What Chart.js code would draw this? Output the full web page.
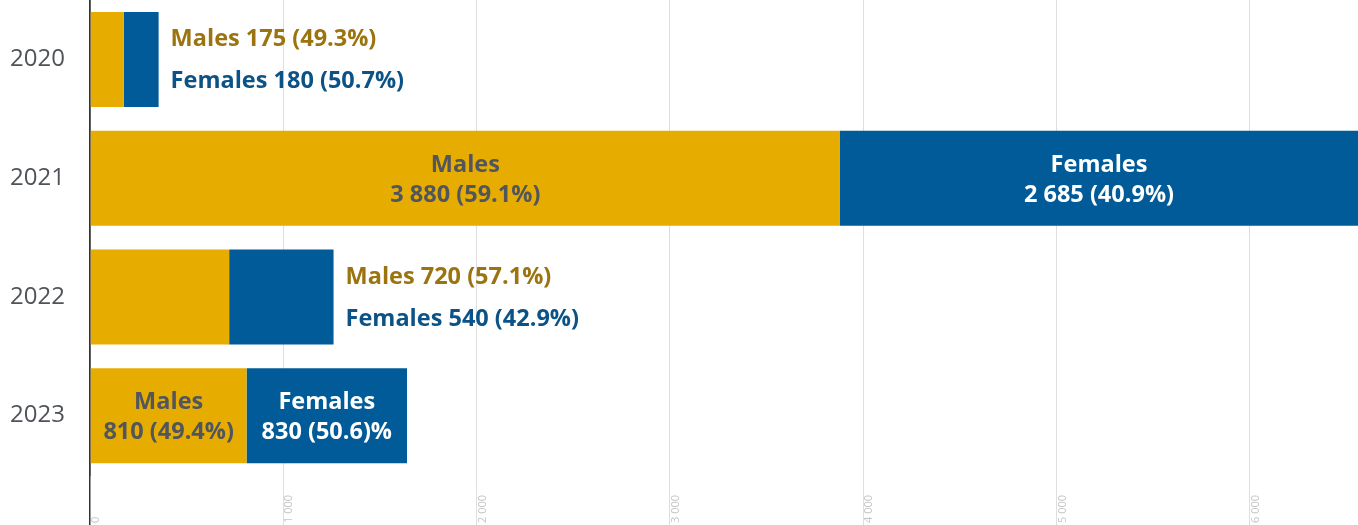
<!DOCTYPE html>
<html>
<head>
<meta charset="utf-8">
<script src="https://cdn.jsdelivr.net/npm/chart.js@4/dist/chart.umd.min.js"></script>
<style>
  html, body { margin: 0; padding: 0; background: #fff; }
  #wrap { width: 1358px; height: 525px; position: relative; }
</style>
</head>
<body>
<div id="wrap"><canvas id="grafica"></canvas></div>
<script>
// ==============================
// DATA
// ==============================
const years = ["2020", "2021", "2022", "2023"];
const males = [175, 3880, 720, 810];
const females = [180, 2685, 540, 830];
const malesPct = ["(49.3%)", "(59.1%)", "(57.1%)", "(49.4%)"];
const femalesPct = ["(50.7%)", "(40.9%)", "(42.9%)", "(50.6)%"];
const xTicks = [0, 1000, 2000, 3000, 4000, 5000, 6000];

const GOLD = "#E6AC00";
const BLUE = "#005B98";
const GOLD_TEXT = "#9B7410";
const BLUE_TEXT = "#0B5386";
const FONT = "'Open Sans', sans-serif";

function fmt(n) {
    return String(n).replace(/\B(?=(\d{3})+(?!\d))/g, " ");
}

// ==============================
// LABELS ON / NEXT TO BARS
// ==============================
const barLabels = {
    id: "barLabels",
    afterDatasetsDraw(chart) {
        const ctx = chart.ctx;
        const mMeta = chart.getDatasetMeta(0);
        const fMeta = chart.getDatasetMeta(1);
        ctx.save();
        ctx.font = "bold 23.5px " + FONT;
        ctx.textBaseline = "middle";

        years.forEach((y, i) => {
            const mBar = mMeta.data[i];
            const fBar = fMeta.data[i];
            const mLine2 = fmt(males[i]) + " " + malesPct[i];
            const fLine2 = fmt(females[i]) + " " + femalesPct[i];
            const mW = mBar.x - mBar.base;
            const fW = fBar.x - fBar.base;
            const fits = ctx.measureText(mLine2).width < mW &&
                         ctx.measureText(fLine2).width < fW;
            const cy = mBar.y;

            if (fits) {
                const right = Math.min(fBar.x, chart.chartArea.right);
                ctx.textAlign = "center";
                ctx.fillStyle = "#51565c";
                ctx.fillText("Males", (mBar.base + mBar.x) / 2, cy - 13);
                ctx.fillText(mLine2, (mBar.base + mBar.x) / 2, cy + 17);
                ctx.fillStyle = "#ffffff";
                ctx.fillText("Females", (fBar.base + right) / 2, cy - 13);
                ctx.fillText(fLine2, (fBar.base + right) / 2, cy + 17);
            } else {
                const x = fBar.x + 12;
                ctx.textAlign = "left";
                ctx.fillStyle = GOLD_TEXT;
                ctx.fillText("Males " + mLine2, x, cy - 20);
                ctx.fillStyle = BLUE_TEXT;
                ctx.fillText("Females " + fLine2, x, cy + 22);
            }
        });
        ctx.restore();
    }
};

// ==============================
// X TICK LABELS (rotated, at the bottom)
// ==============================
const xLabels = {
    id: "xLabels",
    afterDraw(chart) {
        const ctx = chart.ctx;
        const scale = chart.scales.x;
        ctx.save();
        ctx.font = "11px " + FONT;
        ctx.fillStyle = "#c4c4c4";
        ctx.textAlign = "left";
        ctx.textBaseline = "middle";
        xTicks.forEach(v => {
            const px = scale.getPixelForValue(v);
            ctx.save();
            ctx.translate(px + 6, chart.height - 2);
            ctx.rotate(-Math.PI / 2);
            ctx.fillText(fmt(v), 0, 0);
            ctx.restore();
        });
        ctx.restore();
    }
};

// ==============================
// GRAPH
// ==============================
new Chart(document.getElementById("grafica"), {
    type: "bar",
    data: {
        labels: years,
        datasets: [
            {
                label: "Males",
                data: males,
                backgroundColor: GOLD,
                categoryPercentage: 0.8,
                barPercentage: 1
            },
            {
                label: "Females",
                data: females,
                backgroundColor: BLUE,
                categoryPercentage: 0.8,
                barPercentage: 1
            }
        ]
    },
    options: {
        indexAxis: "y",
        responsive: true,
        maintainAspectRatio: false,
        animation: false,
        layout: { padding: 0 },
        plugins: {
            legend: { display: false },
            tooltip: { enabled: false }
        },
        scales: {
            x: {
                stacked: true,
                min: 0,
                max: 6560,
                z: 1,
                afterBuildTicks: scale => {
                    scale.ticks = xTicks.map(v => ({ value: v }));
                },
                border: { display: false },
                grid: {
                    color: ctx => (ctx.tick && ctx.tick.value === 0) ? "#333333" : "rgba(0,0,0,0.13)",
                    lineWidth: ctx => (ctx.tick && ctx.tick.value === 0) ? 1.5 : 1,
                    drawTicks: true,
                    tickLength: 50
                },
                ticks: { display: false }
            },
            y: {
                stacked: true,
                afterFit: scale => {
                    scale.width = 90;
                    scale.paddingTop = 0;
                    scale.paddingBottom = 0;
                },
                border: { display: true, color: "#333333", width: 1.5 },
                grid: { display: false },
                ticks: {
                    padding: 17,
                    color: "#4f545a",
                    font: { family: FONT, size: 24 }
                }
            }
        }
    },
    plugins: [barLabels, xLabels]
});
</script>
</body>
</html>
